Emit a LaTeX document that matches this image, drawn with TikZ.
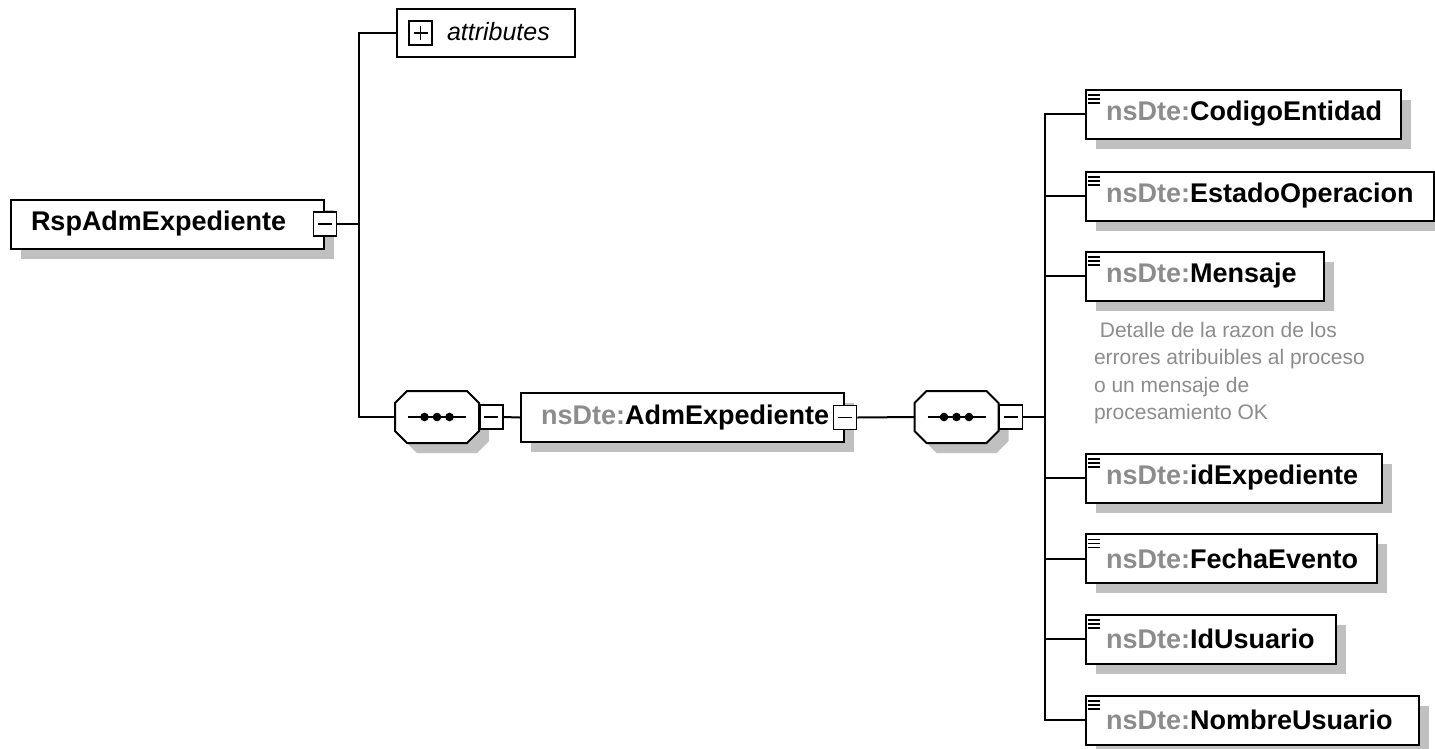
\documentclass[tikz,border=0pt]{standalone}
\usepackage{fontspec}
\setmainfont{Liberation Sans}
\usetikzlibrary{shadows}
\definecolor{shdc}{HTML}{C0C0C0}
\definecolor{nsg}{HTML}{8C8C8C}
\newcommand\lbox[2]{\makebox[#1][l]{#2}}
\newcommand\octpath[2]{% #1 node name, #2 offset
  ([xshift=12pt+#2,yshift=-#2]#1.north west) -- ([xshift=-12pt+#2,yshift=-#2]#1.north east) -- ([xshift=#2,yshift=-12pt-#2]#1.north east)
  -- ([xshift=#2,yshift=12pt-#2]#1.south east) -- ([xshift=-12pt+#2,yshift=-#2]#1.south east) -- ([xshift=12pt+#2,yshift=-#2]#1.south west)
  -- ([xshift=#2,yshift=12pt-#2]#1.south west) -- ([xshift=#2,yshift=-12pt-#2]#1.north west) -- cycle}
\newcommand\seqdraw[1]{%
  \fill[shdc] \octpath{#1}{10pt};
  \filldraw[fill=white,line width=2pt] \octpath{#1}{0pt};
  \draw[line width=2pt] ([xshift=-29pt]#1.center) -- ([xshift=29pt]#1.center);
  \foreach \d in {-12.5,0,12.5} \fill ([xshift=\d pt]#1.center) circle (4.3pt);}
\begin{document}
\begin{tikzpicture}[x=1pt,y=-1pt,line width=2pt,
  shd/.style={drop shadow={shadow xshift=10pt,shadow yshift=-10pt,fill=shdc,opacity=1}},
  elem/.style={draw,fill=white,shd,rectangle,minimum height=49pt,inner xsep=20pt,inner ysep=0pt,anchor=west,
    font=\fontsize{27}{32}\selectfont\bfseries},
  pm/.style={draw,fill=white,line width=1.5pt,minimum width=23pt,minimum height=24pt,inner sep=0pt},
  minusbox/.style={pm,path picture={\draw[line width=1.5pt] ([xshift=-7pt]path picture bounding box.center) -- ([xshift=7pt]path picture bounding box.center);}},
  plusbox/.style={pm,path picture={\draw[line width=1.5pt] ([xshift=-7pt]path picture bounding box.center) -- ([xshift=7pt]path picture bounding box.center)
     ([yshift=-7pt]path picture bounding box.center) -- ([yshift=7pt]path picture bounding box.center);}},
  seqbox/.style={rectangle,minimum width=82pt,minimum height=50pt,inner sep=0pt},
  icon/.style={line width=1.8pt},
  conn/.style={line width=2pt},
]
\fill[white] (0,0) rectangle (1435,748);
\useasboundingbox (0,0) rectangle (1435,748);

% root
\node[elem] (root) at (10,224) {\lbox{273pt}{RspAdmExpediente}};
\node[minusbox] (rm) at (root.east) {};
\coordinate (b1) at (359,224);

% attributes
\node[draw,fill=white,minimum width=178pt,minimum height=48pt,anchor=west,inner sep=0pt] (attr) at (396,33) {};
\node[plusbox] (ap) at (420.5,33) {};
\node[anchor=west,inner sep=0pt,font=\fontsize{25}{30}\selectfont\itshape] (at) at (446,32) {attributes};

% sequence 1
\node[seqbox] (s1) at (437,417) {};
\seqdraw{s1}
\node[minusbox,anchor=west] (s1m) at (s1.east) {};

% AdmExpediente
\node[elem] (adm) at (520,417.5) {\lbox{283pt}{\textcolor{nsg}{nsDte:}AdmExpediente}};
\node[minusbox] (admm) at (adm.east) {};

% sequence 2
\node[seqbox] (s2) at (956.5,417) {};
\seqdraw{s2}
\node[minusbox,anchor=west] (s2m) at (s2.east) {};
\coordinate (b2) at (1045,417);

% children
\node[elem] (c1) at (1085,114) {\lbox{275pt}{\textcolor{nsg}{nsDte:}CodigoEntidad}};
\node[elem] (c2) at (1085,196) {\lbox{308pt}{\textcolor{nsg}{nsDte:}EstadoOperacion}};
\node[elem] (c3) at (1085,276) {\lbox{198pt}{\textcolor{nsg}{nsDte:}Mensaje}};
\node[elem] (c4) at (1085,478) {\lbox{256pt}{\textcolor{nsg}{nsDte:}idExpediente}};
\node[elem] (c5) at (1085,558.5) {\lbox{251pt}{\textcolor{nsg}{nsDte:}FechaEvento}};
\node[elem] (c6) at (1085,639) {\lbox{210pt}{\textcolor{nsg}{nsDte:}IdUsuario}};
\node[elem] (c7) at (1085,720) {\lbox{293pt}{\textcolor{nsg}{nsDte:}NombreUsuario}};
\foreach \c in {c1,c2,c3,c4,c5,c6,c7}{
  \draw[icon] ([xshift=3pt,yshift=-6.5pt]\c.north west) -- ++(12,0)
              ([xshift=3pt,yshift=-10.5pt]\c.north west) -- ++(12,0)
              ([xshift=3pt,yshift=-14.5pt]\c.north west) -- ++(12,0);
}

\node[anchor=north west,align=left,inner sep=0pt,text=nsg,font=\fontsize{21}{27.5}\selectfont] (desc) at (1093,321)
  {\ Detalle de la razon de los\\errores atribuibles al proceso\\o un mensaje de\\procesamiento OK};

% connectors
\draw[conn] (rm.east) -- (b1);
\draw[conn] (attr.west) -| (b1) |- (s1.west);
\draw[conn] (s1m.east) -- (adm.west);
\draw[conn] (admm.east) -- (s2.west);
\draw[conn] (s2m.east) -- (b2);
\foreach \c in {c1,c2,c3,c4,c5,c6,c7}{
  \draw[conn] (b2) |- (\c.west);
}
\end{tikzpicture}
\end{document}
